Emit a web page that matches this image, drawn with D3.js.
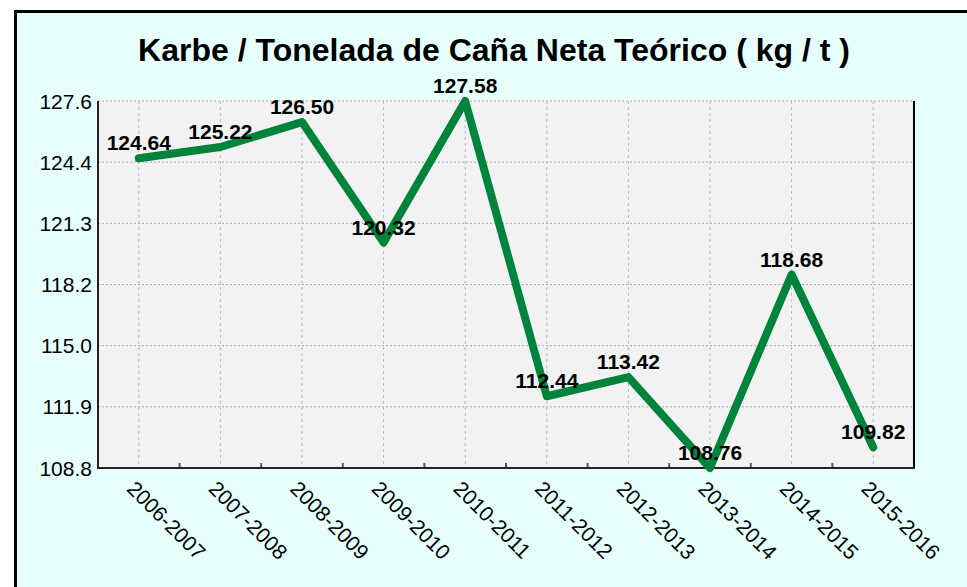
<!DOCTYPE html>
<html>
<head>
<meta charset="utf-8">
<script src="https://cdn.jsdelivr.net/npm/d3@7"></script>
<style>
  body { margin: 0; background: #fff; }
  text { font-family: "Liberation Sans", Arial, sans-serif; }
</style>
</head>
<body>
<div id="vis"></div>
<script>
var seasons = ['2006-2007', '2007-2008', '2008-2009', '2009-2010', '2010-2011',
               '2011-2012', '2012-2013', '2013-2014', '2014-2015', '2015-2016'];
var karbe = [124.64, 125.22, 126.50, 120.32, 127.58, 112.44, 113.42, 108.76, 118.68, 109.82];
var yTickLabels = ['108.8', '111.9', '115.0', '118.2', '121.3', '124.4', '127.6'];

var width = 967;
var height = 587;
var margin = { top: 101, right: 53, bottom: 119, left: 98 };
var drawWidth = width - margin.left - margin.right;
var drawHeight = height - margin.top - margin.bottom;

var svg = d3.select('#vis')
            .append('svg')
            .attr('width', width)
            .attr('height', height);

// outer frame
svg.append('rect')
    .attr('x', 15.5)
    .attr('y', 11.5)
    .attr('width', width + 20)
    .attr('height', height + 20)
    .attr('fill', '#e6fffa')
    .attr('stroke', '#000')
    .attr('stroke-width', 3);

svg.append('text')
    .attr('x', 494)
    .attr('y', 61)
    .attr('text-anchor', 'middle')
    .style('font-size', '32px')
    .style('font-weight', 'bold')
    .text('Karbe / Tonelada de Caña Neta Teórico ( kg / t )');

var g = svg.append('g')
            .attr('transform', 'translate(' + margin.left + ', ' + margin.top + ')');

var yMin = d3.min(karbe);
var yMax = d3.max(karbe);

var xScale = d3.scaleBand()
                .domain(seasons)
                .range([0, drawWidth]);

var yScale = d3.scaleLinear()
                .domain([yMin, yMax])
                .range([drawHeight, 0]);

var yTicks = d3.range(7).map(function(i) { return yMin + i * (yMax - yMin) / 6; });

g.append('rect')
    .attr('width', drawWidth)
    .attr('height', drawHeight)
    .attr('fill', '#f2f2f2');

// grid
g.selectAll('.hgrid')
    .data(yTicks)
    .enter()
    .append('line')
    .attr('x1', 0)
    .attr('x2', drawWidth)
    .attr('y1', function(d) { return yScale(d); })
    .attr('y2', function(d) { return yScale(d); })
    .attr('stroke', '#aaa')
    .attr('stroke-width', 1)
    .attr('stroke-dasharray', '2,2');

g.selectAll('.vgrid')
    .data(seasons)
    .enter()
    .append('line')
    .attr('x1', function(d) { return xScale(d) + xScale.bandwidth() / 2; })
    .attr('x2', function(d) { return xScale(d) + xScale.bandwidth() / 2; })
    .attr('y1', 0)
    .attr('y2', drawHeight)
    .attr('stroke', '#bbb')
    .attr('stroke-width', 1)
    .attr('stroke-dasharray', '3,3');

// tick marks between categories
g.selectAll('.xtick')
    .data(seasons.slice(1))
    .enter()
    .append('line')
    .attr('x1', function(d) { return xScale(d); })
    .attr('x2', function(d) { return xScale(d); })
    .attr('y1', drawHeight)
    .attr('y2', drawHeight - 5)
    .attr('stroke', '#555')
    .attr('stroke-width', 2);

// axes lines
g.append('line')
    .attr('x1', 0).attr('x2', 0)
    .attr('y1', 0).attr('y2', drawHeight)
    .attr('stroke', '#222').attr('stroke-width', 2);
g.append('line')
    .attr('x1', -1).attr('x2', drawWidth + 1)
    .attr('y1', drawHeight).attr('y2', drawHeight)
    .attr('stroke', '#222').attr('stroke-width', 2);
g.append('line')
    .attr('x1', drawWidth).attr('x2', drawWidth)
    .attr('y1', 0).attr('y2', drawHeight)
    .attr('stroke', '#000').attr('stroke-width', 2);

// y labels
g.selectAll('.ylabel')
    .data(yTicks)
    .enter()
    .append('text')
    .attr('x', -6)
    .attr('y', function(d) { return yScale(d); })
    .attr('dy', '0.36em')
    .attr('text-anchor', 'end')
    .style('font-size', '21px')
    .text(function(d, i) { return yTickLabels[i]; });

// x labels
g.selectAll('.xlabel')
    .data(seasons)
    .enter()
    .append('text')
    .attr('transform', function(d) {
        return 'translate(' + (xScale(d) + xScale.bandwidth() / 2 - 13) + ', ' + (drawHeight + 22) + ') rotate(45)';
    })
    .attr('text-anchor', 'start')
    .style('font-size', '21px')
    .text(function(d) { return d; });

var line = d3.line()
            .x(function(d, i) { return xScale(seasons[i]) + xScale.bandwidth() / 2; })
            .y(function(d) { return yScale(d); });

g.append('path')
    .datum(karbe)
    .attr('d', line)
    .attr('fill', 'none')
    .attr('stroke', '#00843c')
    .attr('stroke-width', 8)
    .attr('stroke-linecap', 'round')
    .attr('stroke-linejoin', 'round');

g.selectAll('.vlabel')
    .data(karbe)
    .enter()
    .append('text')
    .attr('x', function(d, i) { return xScale(seasons[i]) + xScale.bandwidth() / 2; })
    .attr('y', function(d) { return yScale(d) - 8; })
    .attr('text-anchor', 'middle')
    .style('font-size', '21px')
    .style('font-weight', 'bold')
    .text(function(d) { return d.toFixed(2); });
</script>
</body>
</html>
